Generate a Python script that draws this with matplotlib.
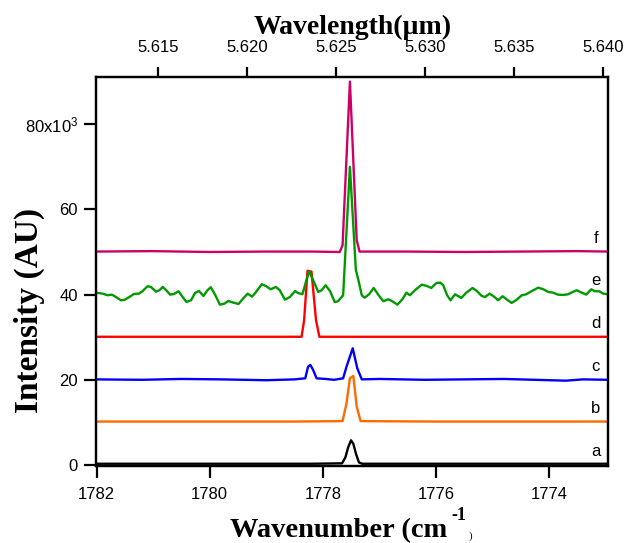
import matplotlib
matplotlib.use("Agg")
import matplotlib.pyplot as plt

plt.rcParams['font.family'] = ['Liberation Sans', 'DejaVu Sans']
plt.rcParams['mathtext.fontset'] = 'custom'
plt.rcParams['mathtext.rm'] = 'Liberation Sans'
plt.rcParams['mathtext.it'] = 'Liberation Sans'

# ---------------- data (wavenumber in cm^-1, intensity in 10^3 AU) -------------
wn_a = [1782.02, 1780.0, 1778.2, 1777.66, 1777.60, 1777.55, 1777.50, 1777.46, 1777.41, 1777.36, 1777.30, 1776.0, 1774.0, 1772.95]
int_a = [0.3, 0.3, 0.3, 0.4, 1.8, 4.2, 5.8, 5.0, 2.5, 0.6, 0.3, 0.3, 0.3, 0.3]

wn_b = [1782.02, 1780.0, 1778.5, 1777.65, 1777.58, 1777.52, 1777.46, 1777.40, 1777.33, 1776.0, 1774.0, 1772.95]
int_b = [10.2, 10.2, 10.2, 10.3, 14.5, 20.4, 20.9, 13.7, 10.3, 10.2, 10.2, 10.2]

wn_c = [1782.02, 1781.2, 1780.5, 1779.8, 1779.0, 1778.5, 1778.31, 1778.26, 1778.22, 1778.17, 1778.11,
        1777.95, 1777.80, 1777.64, 1777.58, 1777.47, 1777.39, 1777.31, 1777.0, 1776.2, 1775.5,
        1774.8, 1773.7, 1773.4, 1772.95]
int_c = [20.1, 20.0, 20.2, 20.1, 19.9, 20.1, 20.35, 23.1, 23.5, 22.3, 20.35,
         20.2, 20.0, 20.35, 23.1, 27.4, 22.7, 20.1, 20.2, 20.0, 20.1,
         20.2, 19.8, 20.1, 20.0]

wn_d = [1782.02, 1780.0, 1778.9, 1778.375, 1778.33, 1778.27, 1778.20, 1778.12, 1778.06, 1777.0, 1775.0, 1772.95]
int_d = [30.1, 30.1, 30.1, 30.1, 34.0, 45.6, 45.4, 34.0, 30.1, 30.1, 30.1, 30.1]

wn_e = [1782.02, 1781.98, 1781.89, 1781.81, 1781.73, 1781.66, 1781.57, 1781.51, 1781.42, 1781.34,
        1781.25, 1781.19, 1781.10, 1781.04, 1780.95, 1780.89, 1780.83, 1780.77, 1780.70, 1780.63,
        1780.55, 1780.48, 1780.41, 1780.33, 1780.26, 1780.19, 1780.11, 1780.04, 1779.98, 1779.90,
        1779.82, 1779.74, 1779.67, 1779.58, 1779.49, 1779.41, 1779.33, 1779.25, 1779.18, 1779.08,
        1779.01, 1778.92, 1778.83, 1778.76, 1778.67, 1778.58, 1778.49, 1778.44, 1778.36, 1778.29,
        1778.24, 1778.17, 1778.08, 1778.02, 1777.95, 1777.87, 1777.79, 1777.73, 1777.64, 1777.52,
        1777.415, 1777.37, 1777.31, 1777.26, 1777.18, 1777.10, 1777.02, 1776.93, 1776.84, 1776.77,
        1776.68, 1776.59, 1776.52, 1776.46, 1776.37, 1776.25, 1776.16, 1776.08, 1775.99, 1775.92,
        1775.87, 1775.80, 1775.74, 1775.66, 1775.55, 1775.46, 1775.35, 1775.27, 1775.19, 1775.13,
        1775.05, 1774.97, 1774.90, 1774.82, 1774.75, 1774.66, 1774.57, 1774.48, 1774.40, 1774.31,
        1774.19, 1774.10, 1774.01, 1773.93, 1773.84, 1773.74, 1773.66, 1773.58, 1773.51, 1773.42,
        1773.34, 1773.25, 1773.19, 1773.11, 1773.04, 1772.95]
int_e = [40.4, 40.38, 40.22, 39.85, 39.99, 39.45, 38.67, 38.74, 39.45, 40.15,
         40.22, 40.78, 41.96, 41.79, 40.69, 41.02, 41.79, 41.02, 39.99, 40.15,
         40.78, 39.45, 38.27, 38.67, 40.38, 40.85, 39.68, 41.02, 41.72, 39.85,
         37.64, 37.87, 38.51, 38.11, 37.80, 39.05, 40.22, 39.52, 40.62, 42.43,
         42.03, 41.25, 41.79, 41.02, 38.81, 39.45, 40.85, 40.38, 40.08, 43.37,
         45.43, 43.37, 40.62, 41.02, 42.19, 40.78, 38.27, 38.44, 39.85, 70.0,
         45.8, 43.4, 39.85, 39.28, 40.08, 41.56, 39.99, 38.44, 38.91, 38.44,
         37.64, 38.91, 40.46, 39.85, 41.02, 42.33, 42.03, 41.56, 42.73, 42.80,
         42.19, 39.85, 38.67, 40.08, 39.21, 40.46, 41.56, 40.78, 39.68, 39.45,
         40.22, 39.52, 38.67, 39.61, 38.91, 38.04, 38.81, 39.85, 40.08, 40.78,
         41.63, 41.25, 40.62, 40.46, 39.99, 39.92, 40.08, 40.62, 41.02, 40.46,
         39.99, 41.25, 40.78, 40.78, 40.22, 40.08]

wn_f = [1782.02, 1781.0, 1780.0, 1779.0, 1778.2, 1777.70, 1777.65, 1777.52, 1777.40, 1777.35, 1776.5, 1775.5, 1774.5, 1773.5, 1772.95]
int_f = [50.1, 50.2, 50.0, 50.1, 50.1, 50.0, 51.6, 90.0, 52.8, 50.1, 50.1, 50.0, 50.1, 50.2, 50.1]

series_wn = [wn_a, wn_b, wn_c, wn_d, wn_e, wn_f]
series_int = [int_a, int_b, int_c, int_d, int_e, int_f]
series_colors = ['#000000', '#FF6A00', '#0000FF', '#FF0000', '#009A00', '#CC0066']
trace_letters = ['a', 'b', 'c', 'd', 'e', 'f']
trace_offsets = [0.0, 10.0, 20.0, 30.0, 40.0, 50.0]

bottom_ticks = [1782, 1780, 1778, 1776, 1774]
top_ticks = [5.615, 5.620, 5.625, 5.630, 5.635, 5.640]
top_tick_labels = ['5.615', '5.620', '5.625', '5.630', '5.635', '5.640']
y_ticks = [0, 20, 40, 60, 80]
y_tick_labels = ['0', '20', '40', '60', r'80x10$^{3}$']

# ---------------- figure --------------------------------------------------------
W, H = 636, 543
fig = plt.figure(figsize=(W / 100, H / 100), dpi=100)
ax = fig.add_axes([95.5 / W, 1 - 466.3 / H, (608.3 - 95.5) / W, (466.3 - 77.3) / H])

for wn, val, col in zip(series_wn, series_int, series_colors):
    ax.plot(wn, val, color=col, lw=1.7, solid_joinstyle='round', solid_capstyle='round')

ax.set_xlim(1782.02, 1772.95)
ax.set_ylim(-0.3, 91.0)

ax.set_xticks(bottom_ticks)
ax.set_xticklabels([str(t) for t in bottom_ticks])
ax.set_yticks(y_ticks)
ax.set_yticklabels(y_tick_labels)
ax.tick_params(axis='both', direction='out', width=1.6, labelsize=12, colors='black')
ax.tick_params(axis='x', length=8.6, pad=6)
ax.tick_params(axis='y', length=8.6, pad=4)
for s in ax.spines.values():
    s.set_linewidth(1.6)

for letter, off in zip(trace_letters, trace_offsets):
    ax.text(1773.17, off + 3.2, letter, fontsize=12, ha='center', va='center')

ax2 = ax.twiny()
ax2.set_xlim(5.61147, 5.64029)
ax2.set_xticks(top_ticks)
ax2.set_xticklabels(top_tick_labels)
ax2.tick_params(axis='x', direction='out', length=7, width=1.6, pad=9, labelsize=12)
for s in ax2.spines.values():
    s.set_linewidth(1.6)

serif = 'Liberation Serif'
fig.text(353 / W, 1 - 33.5 / H, 'Wavelength(µm)', family=serif, fontweight='bold',
         fontsize=20, ha='center', va='baseline')
fig.text(29 / W, 1 - 310 / H, 'Intensity (AU)', family=serif, fontweight='bold',
         fontsize=24, rotation=90, ha='center', va='center')

t1 = fig.text(230 / W, 1 - 537 / H, 'Wavenumber (cm', family=serif, fontweight='bold',
              fontsize=20.5, ha='left', va='baseline')
fig.canvas.draw()
x_end = t1.get_window_extent().x1
fig.text((x_end + 4) / W, 1 - 520 / H, '-1', family=serif, fontweight='bold',
         fontsize=13, ha='left', va='baseline')
fig.text((x_end + 21) / W, 1 - 539 / H, ')', family=serif, fontsize=8,
         ha='left', va='baseline')

fig.savefig('out.png', dpi=100)
